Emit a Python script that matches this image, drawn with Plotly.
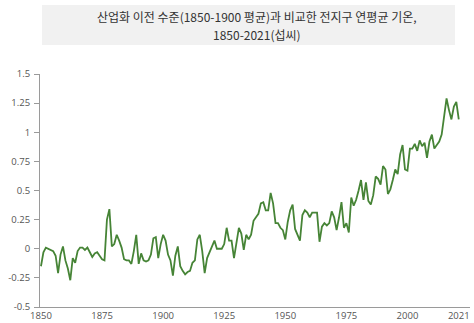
import plotly.graph_objects as go

# Annual global mean temperature relative to the 1850-1900 average (°C)
years = list(range(1850, 2022))
anomaly = [
    -0.15, -0.03, 0.01, 0.00, -0.01, -0.02, -0.06, -0.21, -0.05, 0.02,   # 1850s
    -0.10, -0.17, -0.27, -0.08, -0.12, -0.02, 0.01, 0.01, -0.01, 0.01,   # 1860s
    -0.03, -0.07, -0.04, -0.03, -0.06, -0.09, -0.10, 0.25, 0.34, 0.02,   # 1870s
    0.04, 0.12, 0.07, 0.01, -0.09, -0.10, -0.10, -0.13, -0.02, 0.12,     # 1880s
    -0.13, -0.04, -0.10, -0.11, -0.10, -0.05, 0.09, 0.10, -0.08, 0.04,   # 1890s
    0.12, 0.07, -0.05, -0.10, -0.23, -0.06, 0.02, -0.15, -0.19, -0.22,   # 1900s
    -0.20, -0.19, -0.12, -0.10, 0.08, 0.12, -0.02, -0.21, -0.08, -0.03,  # 1910s
    0.01, 0.07, 0.00, 0.00, 0.00, 0.04, 0.18, 0.07, 0.07, -0.08,         # 1920s
    0.07, 0.18, 0.13, -0.01, 0.12, 0.08, 0.12, 0.24, 0.27, 0.30,         # 1930s
    0.39, 0.40, 0.33, 0.33, 0.48, 0.39, 0.22, 0.22, 0.18, 0.16,          # 1940s
    0.08, 0.23, 0.33, 0.38, 0.17, 0.12, 0.07, 0.29, 0.33, 0.31,          # 1950s
    0.27, 0.31, 0.31, 0.31, 0.06, 0.19, 0.22, 0.20, 0.22, 0.32,          # 1960s
    0.27, 0.16, 0.27, 0.40, 0.18, 0.22, 0.14, 0.44, 0.37, 0.42,          # 1970s
    0.50, 0.59, 0.42, 0.57, 0.41, 0.38, 0.46, 0.62, 0.60, 0.55,          # 1980s
    0.71, 0.68, 0.47, 0.51, 0.59, 0.68, 0.64, 0.81, 0.89, 0.68,          # 1990s
    0.67, 0.86, 0.86, 0.90, 0.84, 0.93, 0.88, 0.91, 0.78, 0.92,          # 2000s
    0.98, 0.86, 0.89, 0.92, 0.98, 1.12, 1.29, 1.19, 1.11, 1.22,          # 2010s
    1.26, 1.11,                                                          # 2020s
]

x_ticks = [1850, 1875, 1900, 1925, 1950, 1975, 2000, 2021]
y_ticks = [-0.5, -0.25, 0, 0.25, 0.5, 0.75, 1, 1.25, 1.5]
y_tick_text = ["-0.5", "-0.25", "0", "0.25", "0.5", "0.75", "1", "1.25", "1.5"]

title_lines = [
    "산업화 이전 수준(1850-1900 평균)과 비교한 전지구 연평균 기온,",
    "1850-2021(섭씨)",
]

fig = go.Figure()
fig.add_trace(go.Scatter(
    x=years, y=anomaly, mode="lines",
    line=dict(color="#468436", width=1.8),
    hoverinfo="skip", showlegend=False,
))

axis_font = dict(family="Open Sans, Lato, sans-serif", size=9.5, color="#555555")

# plot area spans x 40..470 px and y 74..307 px; helpers map pixels to paper
def px_x(p):
    return (p - 40) / 430


def px_y(p):
    return (307 - p) / 233


title_font = dict(family="Noto Sans CJK KR, sans-serif", size=12, color="#333333")
annotations = [
    dict(text=line, xref="paper", yref="paper", x=px_x(257), y=px_y(cy),
         xanchor="center", yanchor="middle", showarrow=False, font=title_font)
    for line, cy in zip(title_lines, [16.3, 34.2])
]

fig.update_layout(
    width=474, height=323,
    margin=dict(l=40, r=4, t=74, b=16, autoexpand=False),
    paper_bgcolor="white", plot_bgcolor="white",
    xaxis=dict(
        range=[1849.6, 2025.6], tickvals=x_ticks, ticktext=[str(t) for t in x_ticks],
        showgrid=False, zeroline=False, showline=True, linecolor="#9a9a9a", linewidth=1,
        ticks="", ticklen=0, ticklabelstandoff=0, tickfont=axis_font, automargin=False,
    ),
    yaxis=dict(
        range=[-0.5, 1.5], tickvals=y_ticks, ticktext=y_tick_text,
        showgrid=False, zeroline=False, showline=True, linecolor="#9a9a9a", linewidth=1,
        ticks="outside", ticklen=5, tickcolor="#9a9a9a", tickwidth=1,
        ticklabelstandoff=2, tickfont=axis_font, automargin=False,
    ),
    shapes=[dict(
        type="rect", xref="paper", yref="paper",
        x0=px_x(42), x1=px_x(455), y0=px_y(45), y1=px_y(5),
        fillcolor="#f1f1f1", line=dict(width=0), layer="below",
    )],
    annotations=annotations,
)

fig.write_html("out.html")
